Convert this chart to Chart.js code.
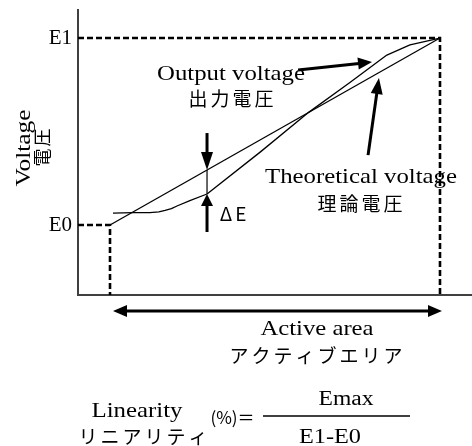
<!DOCTYPE html>
<html><head><meta charset="utf-8">
<script src="https://cdn.jsdelivr.net/npm/chart.js@4/dist/chart.umd.min.js"></script>
<style>html,body{margin:0;padding:0;background:#fff;overflow:hidden}canvas{display:block}</style>
</head><body>
<canvas id="c" width="472" height="446"></canvas>
<script>
// ---- data (x: % of active area, y: % of E1-E0) ----
const xRange = [-9.7, 109.7];
const yRange = [-37.4, 115];
const activeArea = [0, 100];
const levelValues = [0, 100];
const levelLabels = ['E0', 'E1'];
const outputX = [0.9, 7.0, 12.1, 14.8, 16.7, 18.6, 20.3, 24.2, 29.4, 45.5, 60.3, 72.7, 83.9, 90.9, 100];
const outputY = [6.4, 6.7, 6.7, 7.1, 7.8, 8.8, 10.2, 13.1, 16.6, 39.0, 60.4, 76.2, 90.9, 96.3, 100];
const theoreticalX = [0, 100];
const theoreticalY = [0, 100];
const deltaIndex = 8; // output point where ΔE is marked

const SERIF = '"Liberation Serif", "DejaVu Serif", serif';
const CJK = '"Noto Sans CJK JP", "Noto Sans", sans-serif';

const pts = (xs, ys) => xs.map((x, i) => ({x, y: ys[i]}));

function fitText(ctx, str, cx, y, font, targetW, rot) {
  ctx.save();
  ctx.font = font;
  ctx.textAlign = 'center';
  ctx.textBaseline = 'alphabetic';
  const w = ctx.measureText(str).width;
  ctx.translate(cx, y);
  if (rot) ctx.rotate(rot);
  ctx.scale(targetW / w, 1);
  ctx.fillText(str, 0, 0);
  ctx.restore();
}
function spacedText(ctx, str, cx, cy, font, spacing, rot) {
  ctx.save();
  ctx.font = font;
  ctx.textAlign = 'center';
  ctx.textBaseline = 'middle';
  let off = 0;
  if ('letterSpacing' in ctx) { ctx.letterSpacing = spacing + 'px'; off = spacing / 2; }
  ctx.translate(cx, cy);
  if (rot) ctx.rotate(rot);
  ctx.fillText(str, off, 0);
  ctx.restore();
}
function arrow(ctx, x1, y1, x2, y2, lw, hl, hw) {
  const a = Math.atan2(y2 - y1, x2 - x1);
  const bx = x2 - hl * Math.cos(a), by = y2 - hl * Math.sin(a);
  ctx.save();
  ctx.strokeStyle = '#000'; ctx.fillStyle = '#000';
  ctx.lineWidth = lw; ctx.lineCap = 'butt';
  ctx.beginPath(); ctx.moveTo(x1, y1); ctx.lineTo(bx + Math.cos(a), by + Math.sin(a)); ctx.stroke();
  ctx.beginPath();
  ctx.moveTo(x2, y2);
  ctx.lineTo(bx + hw / 2 * Math.sin(a), by - hw / 2 * Math.cos(a));
  ctx.lineTo(bx - hw / 2 * Math.sin(a), by + hw / 2 * Math.cos(a));
  ctx.closePath(); ctx.fill();
  ctx.restore();
}

const annotations = {
  id: 'annotations',
  afterDraw(chart) {
    const ctx = chart.ctx;
    const X = v => chart.scales.x.getPixelForValue(v);
    const Y = v => chart.scales.y.getPixelForValue(v);
    ctx.fillStyle = '#000';

    // ΔE marker
    const dx = outputX[deltaIndex];
    const tY = theoreticalY[0] + (theoreticalY[1] - theoreticalY[0]) * (dx - theoreticalX[0]) / (theoreticalX[1] - theoreticalX[0]);
    const oY = outputY[deltaIndex];
    ctx.save(); ctx.lineWidth = 1.2; ctx.strokeStyle = '#000';
    ctx.beginPath(); ctx.moveTo(X(dx), Y(tY)); ctx.lineTo(X(dx), Y(oY)); ctx.stroke(); ctx.restore();
    arrow(ctx, X(dx), Y(49.2), X(dx), Y(tY), 3, 18, 12);
    arrow(ctx, X(dx), Y(-3.7), X(dx), Y(oY), 3, 12, 12);

    // pointer arrows
    arrow(ctx, X(57.0), Y(82.9), X(79.4), Y(87.2), 3, 14, 12);
    arrow(ctx, X(78.2), Y(37.4), X(81.5), Y(78.6), 3, 16, 12);

    // active area double arrow
    const ay = Y(-46);
    const mid = (X(activeArea[0]) + X(activeArea[1])) / 2;
    arrow(ctx, mid, ay, X(activeArea[0] + 0.9), ay, 3, 14, 12);
    arrow(ctx, mid, ay, X(activeArea[1] + 0.6), ay, 3, 14, 12);

    // labels
    fitText(ctx, 'Output voltage', 231, 80, '22px ' + SERIF, 148);
    spacedText(ctx, '出力電圧', 231, 98.5, '19px ' + CJK, 3);
    fitText(ctx, 'Theoretical voltage', 361, 183, '22px ' + SERIF, 192);
    spacedText(ctx, '理論電圧', 360, 204, '19px ' + CJK, 3);
    spacedText(ctx, 'ΔE', 233, 213.5, '19px ' + CJK, 3);
    fitText(ctx, 'Voltage', 30, 148, '21px ' + SERIF, 77, -Math.PI / 2);
    spacedText(ctx, '電圧', 42, 147.5, '18px ' + CJK, 2, -Math.PI / 2);
    fitText(ctx, 'Active area', 317, 335, '22px ' + SERIF, 113);
    spacedText(ctx, 'アクティブエリア', 316, 356, '19px ' + CJK, 3);

    // linearity formula
    fitText(ctx, 'Linearity', 137, 416.5, '22px ' + SERIF, 91);
    spacedText(ctx, 'リニアリティ', 143, 436.5, '19px ' + CJK, 3);
    spacedText(ctx, '(%)＝', 232.5, 417.5, '17px ' + CJK, 0);
    fitText(ctx, 'Emax', 346, 405, '20px ' + SERIF, 55);
    fitText(ctx, 'E1-E0', 330, 443.3, '20px ' + SERIF, 62);
    ctx.save(); ctx.strokeStyle = '#000'; ctx.lineWidth = 1.5;
    ctx.beginPath(); ctx.moveTo(263, 416); ctx.lineTo(410, 416); ctx.stroke(); ctx.restore();
  }
};

const dashStyle = {showLine: true, borderColor: '#000', borderWidth: 2.6, borderDash: [6, 3],
  pointRadius: 0, tension: 0, borderCapStyle: 'butt', borderJoinStyle: 'miter'};

new Chart(document.getElementById('c'), {
  type: 'scatter',
  data: {
    datasets: [
      Object.assign({label: 'E1 guide', data: [
        {x: xRange[0], y: levelValues[1]}, {x: activeArea[1], y: levelValues[1]}, {x: activeArea[1], y: yRange[0]}]}, dashStyle),
      Object.assign({label: 'E0 guide', data: [
        {x: xRange[0], y: levelValues[0]}, {x: activeArea[0], y: levelValues[0]}, {x: activeArea[0], y: yRange[0]}]}, dashStyle),
      {label: 'Theoretical voltage 理論電圧', data: pts(theoreticalX, theoreticalY), showLine: true,
        borderColor: '#000', borderWidth: 1.3, pointRadius: 0},
      {label: 'Output voltage 出力電圧', data: pts(outputX, outputY), showLine: true,
        borderColor: '#000', borderWidth: 1.3, pointRadius: 0, tension: 0, borderJoinStyle: 'round'}
    ]
  },
  options: {
    responsive: false, animation: false, devicePixelRatio: 1,
    layout: {padding: {top: 10, left: 0, right: 0, bottom: 0}},
    plugins: {legend: {display: false}, tooltip: {enabled: false}},
    scales: {
      x: {type: 'linear', min: xRange[0], max: xRange[1],
        grid: {display: false, drawTicks: false},
        border: {display: true, color: '#404040', width: 2},
        ticks: {display: false},
        afterFit(s) { s.height = 151; s.paddingLeft = 0; s.paddingRight = 0; }},
      y: {type: 'linear', min: yRange[0], max: yRange[1],
        grid: {display: false, drawTicks: false},
        border: {display: true, color: '#404040', width: 2},
        ticks: {padding: 6, color: '#000', font: {family: SERIF, size: 21},
          callback: (v) => { const i = levelValues.indexOf(v); return i >= 0 ? levelLabels[i] : ''; }},
        afterBuildTicks(s) { s.ticks = levelValues.map(v => ({value: v})); },
        afterFit(s) { s.width = 78; s.paddingTop = 0; s.paddingBottom = 0; }}
    }
  },
  plugins: [annotations]
});
</script>
</body></html>
